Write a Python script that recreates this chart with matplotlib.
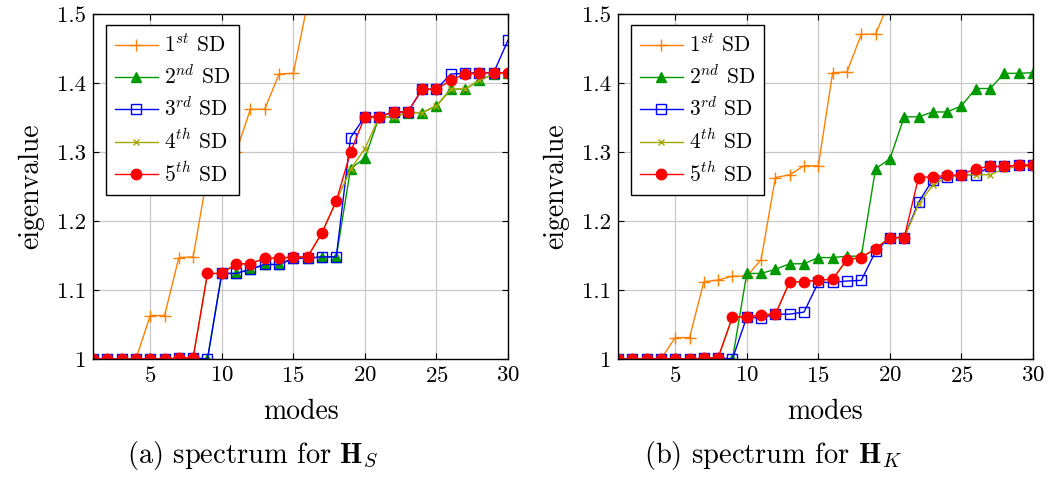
import numpy as np
import matplotlib
matplotlib.use("Agg")
import matplotlib.pyplot as plt

plt.rcParams["font.family"] = "cmr10"
plt.rcParams["mathtext.fontset"] = "cm"
plt.rcParams["axes.formatter.use_mathtext"] = True

# Данные

modes = np.arange(1, 31)

# спектр H_S
sd1_S = [1, 1, 1, 1, 1.063, 1.063, 1.147, 1.148, 1.268, 1.300, 1.300, 1.362,
         1.362, 1.413, 1.414, 1.516]
sd2_S = [1, 1, 1, 1, 1, 1, 1, 1, 1, 1.124, 1.124, 1.130, 1.137, 1.137, 1.146,
         1.146, 1.148, 1.148, 1.276, 1.291, 1.351, 1.351, 1.357, 1.357, 1.367,
         1.391, 1.391, 1.404, 1.413, 1.415]
sd3_S = [1, 1, 1, 1, 1, 1, 1.001, 1.002, 1, 1.124, 1.124, 1.130, 1.137, 1.137,
         1.146, 1.146, 1.148, 1.148, 1.321, 1.351, 1.351, 1.358, 1.358, 1.391,
         1.391, 1.413, 1.414, 1.415, 1.415, 1.462]
sd4_S = [1, 1, 1, 1, 1, 1, 1.001, 1.002, 1.124, 1.124, 1.138, 1.138, 1.146,
         1.146, 1.148, 1.148, 1.183, 1.229, 1.275, 1.305, 1.351, 1.351, 1.357,
         1.357, 1.367, 1.391, 1.391, 1.404, 1.413, 1.415]
sd5_S = [1, 1, 1, 1, 1, 1, 1.001, 1.002, 1.124, 1.124, 1.138, 1.138, 1.146,
         1.146, 1.148, 1.148, 1.183, 1.229, 1.300, 1.351, 1.351, 1.358, 1.358,
         1.391, 1.391, 1.404, 1.413, 1.414, 1.415, 1.415]

# спектр H_K
sd1_K = [1, 1, 1, 1, 1.031, 1.031, 1.112, 1.1145, 1.120, 1.120, 1.144, 1.263,
         1.267, 1.280, 1.280, 1.415, 1.416, 1.4705, 1.471, 1.52]
sd2_K = [1, 1, 1, 1, 1, 1, 1, 1, 1, 1.124, 1.124, 1.130, 1.138, 1.138, 1.147,
         1.147, 1.149, 1.149, 1.276, 1.290, 1.351, 1.351, 1.358, 1.358, 1.367,
         1.392, 1.392, 1.414, 1.414, 1.415]
sd3_K = [1, 1, 1, 1, 1, 1, 1.001, 1.002, 1, 1.061, 1.059, 1.065, 1.065, 1.068,
         1.111, 1.111, 1.113, 1.114, 1.156, 1.176, 1.176, 1.227, 1.260, 1.264,
         1.267, 1.267, 1.279, 1.279, 1.281, 1.281]
sd4_K = [1, 1, 1, 1, 1, 1, 1.001, 1.002, 1.061, 1.061, 1.064, 1.065, 1.112,
         1.112, 1.1145, 1.1155, 1.144, 1.147, 1.160, 1.176, 1.176, 1.224, 1.252,
         1.264, 1.267, 1.267, 1.267, 1.276, 1.279, 1.279]
sd5_K = [1, 1, 1, 1, 1, 1, 1.001, 1.002, 1.061, 1.061, 1.064, 1.065, 1.112,
         1.112, 1.1145, 1.1155, 1.144, 1.147, 1.160, 1.176, 1.176, 1.263, 1.264,
         1.266, 1.267, 1.276, 1.279, 1.279, 1.281, 1.281]

labels = [r"$1^{st}$ SD", r"$2^{nd}$ SD", r"$3^{rd}$ SD", r"$4^{th}$ SD",
          r"$5^{th}$ SD"]
x_ticks = [5, 10, 15, 20, 25, 30]
y_ticks = [1.0, 1.1, 1.2, 1.3, 1.4, 1.5]
y_ticklabels = ["1", "1.1", "1.2", "1.3", "1.4", "1.5"]

STYLES = [
    dict(color="#ff8000", marker="+", ms=8, mew=1.0),
    dict(color="#009900", marker="^", ms=6.5, mfc="#009900"),
    dict(color="#0000ff", marker="s", ms=6.5, mfc="none", mew=1.0),
    dict(color="#a6a600", marker="x", ms=5, mew=1.0),
    dict(color="#ff0000", marker="o", ms=7.5, mfc="#ff0000"),
]

W, H = 1052, 478
fig = plt.figure(figsize=(W / 100, H / 100), dpi=100)


def draw_panel(left_px, series, caption, caption_x):
    ax = fig.add_axes([left_px / W, (H - 359) / H, 415 / W, 345 / H])
    for vals, st, lab in zip(series, STYLES, labels):
        ax.plot(modes[:len(vals)], vals, lw=1.0, label=lab, **st)
    ax.set_xlim(1, 30)
    ax.set_ylim(1.0, 1.5)
    ax.set_xticks(x_ticks)
    ax.set_yticks(y_ticks)
    ax.set_yticklabels(y_ticklabels)
    ax.grid(True, color="#c8c8c8", lw=0.9)
    ax.set_axisbelow(True)
    ax.tick_params(direction="in", top=True, right=True, length=4,
                   labelsize=16.5, pad=5)
    for sp in ax.spines.values():
        sp.set_linewidth(1.0)
    ax.set_xlabel("modes", fontsize=20, labelpad=9)
    ax.set_ylabel("eigenvalue", fontsize=20, labelpad=9)
    leg = ax.legend(loc="upper left", bbox_to_anchor=(13 / 415, 1 - 11 / 345),
                    borderaxespad=0, fontsize=15.5, fancybox=False,
                    edgecolor="black", framealpha=1, handlelength=2.0,
                    handletextpad=0.3, labelspacing=0.4, borderpad=0.4)
    leg.get_frame().set_linewidth(1.0)
    fig.text(caption_x / W, 1 - 456 / H, caption, fontsize=20.5,
             ha="center", va="center")
    return ax


draw_panel(93, [sd1_S, sd2_S, sd3_S, sd4_S, sd5_S],
           r"(a) spectrum for $\mathbf{H}_S$", 253)
draw_panel(618, [sd1_K, sd2_K, sd3_K, sd4_K, sd5_K],
           r"(b) spectrum for $\mathbf{H}_K$", 773)

fig.savefig("out.png", dpi=100)
